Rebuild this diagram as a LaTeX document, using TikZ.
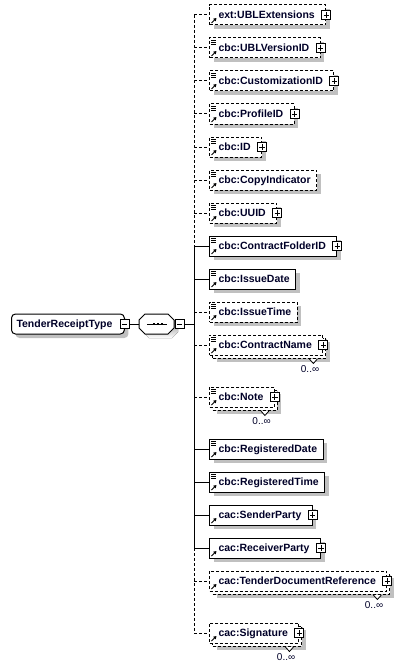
\documentclass[tikz,border=0pt]{standalone}
\usepackage{fontspec}
\setmainfont{Liberation Sans}
\usetikzlibrary{shadows,arrows.meta}
\definecolor{txt}{RGB}{0,0,40}
\definecolor{shade}{RGB}{192,192,192}
\newcommand\sqPlus[1]{%
  \draw[line width=0.9bp,fill=white] ([shift={(-4.5,-4.5)}]#1) rectangle ([shift={(4.5,4.5)}]#1);
  \draw[line width=0.9bp] ([shift={(-2.6,0)}]#1) -- ([shift={(2.6,0)}]#1);
  \draw[line width=0.9bp] ([shift={(0,-2.6)}]#1) -- ([shift={(0,2.6)}]#1);}
\newcommand\sqMinus[1]{%
  \draw[line width=0.9bp,fill=white] ([shift={(-4.5,-4.5)}]#1) rectangle ([shift={(4.5,4.5)}]#1);
  \draw[line width=0.9bp] ([shift={(-2.6,0)}]#1) -- ([shift={(2.6,0)}]#1);}
\newcommand\icLines[1]{%
  \foreach \dy in {2.5,4.5,6.5}{\draw[line width=0.8bp] ([shift={(2,\dy)}]#1.north west) -- ([shift={(6.5,\dy)}]#1.north west);}}
\newcommand\icArrow[1]{%
  \draw[line width=1bp,-{Triangle[length=3bp,width=3.5bp]}] ([shift={(2.5,-2.5)}]#1.south west) -- ([shift={(7.5,-7.5)}]#1.south west);}
\newcommand\multiMark[1]{%
  \draw[line width=0.8bp,fill=white] ([shift={(-14,3.5)}]#1.south east) -- ([shift={(-10,8)}]#1.south east) -- ([shift={(-6,3.5)}]#1.south east);
  \node[card,anchor=east] (#1card) at ([shift={(-4,14)}]#1.south east) {0..∞};}
\newcommand\elP[1]{\kern9bp #1\kern11bp}
\newcommand\elN[1]{\kern9bp #1\kern6bp}
\begin{document}
\begin{tikzpicture}[x=1bp,y=-1bp,
  every node/.style={font=\fontsize{10.5bp}{12bp}\selectfont\bfseries,text=txt},
  card/.style={font=\fontsize{10bp}{12bp}\selectfont,text=txt,inner sep=0pt},
  elbox/.style={anchor=west,rectangle,draw=black,line width=1bp,fill=white,
    minimum height=20bp,inner xsep=0pt,inner ysep=0pt,text height=7.5bp,text depth=0bp,
    general shadow={fill=shade,shadow xshift=4bp,shadow yshift=-4bp}},
  opt/.style={dash pattern=on 3bp off 2bp},
  multi/.style={general shadow={fill=shade,draw=none,shadow xshift=7bp,shadow yshift=-7bp},
    general shadow={fill=white,draw=black,line width=1bp,dash pattern=on 3bp off 2bp,shadow xshift=3bp,shadow yshift=-3bp}},
  conn/.style={line width=1bp,draw=black},
]
\useasboundingbox (0,0) rectangle (408,668);

% root type
\node[elbox,rounded corners=4bp] (root) at (11,324) {\kern5bp TenderReceiptType\kern12bp};

% sequence compositor
\fill[shade] (149,318) -- (172,318) -- (178,324) -- (178,332) -- (172,338) -- (149,338) -- (143,332) -- (143,324) -- cycle;
\draw[line width=1bp,fill=white] (145,314) -- (168,314) -- (174,320) -- (174,328) -- (168,334) -- (145,334) -- (139,328) -- (139,320) -- cycle;
\node[minimum width=35bp,minimum height=20bp,inner sep=0pt] (seq) at (156.5,324) {};
\coordinate (seqm) at ([xshift=5.5bp]seq.east);
\draw[line width=1bp] (147,324) -- (167,324);
\foreach \cx in {154,158,162}{\fill (\cx-1.4,322.6) rectangle (\cx+1.4,325.4);}

\coordinate (spine) at (194,0);

% elements
\node[elbox,opt] (e1) at (209,15) {\elP{ext:UBLExtensions}};
\node[elbox,opt] (e2) at (209,48) {\elP{cbc:UBLVersionID}};
\node[elbox,opt] (e3) at (209,81) {\elP{cbc:CustomizationID}};
\node[elbox,opt] (e4) at (209,114) {\elP{cbc:ProfileID}};
\node[elbox,opt] (e5) at (209,147) {\elP{cbc:ID}};
\node[elbox,opt] (e6) at (209,180) {\elN{cbc:CopyIndicator}};
\node[elbox,opt] (e7) at (209,213) {\elP{cbc:UUID}};
\node[elbox] (e8) at (209,246) {\elP{cbc:ContractFolderID}};
\node[elbox] (e9) at (209,279) {\elN{cbc:IssueDate}};
\node[elbox,opt] (e10) at (209,312) {\elN{cbc:IssueTime}};
\node[elbox,opt,multi] (e11) at (209,345) {\elP{cbc:ContractName}};
\node[elbox,opt,multi] (e12) at (209,397) {\elP{cbc:Note}};
\node[elbox] (e13) at (209,449) {\elN{cbc:RegisteredDate}};
\node[elbox] (e14) at (209,482) {\elN{cbc:RegisteredTime}};
\node[elbox] (e15) at (209,515) {\elP{cac:SenderParty}};
\node[elbox] (e16) at (209,548) {\elP{cac:ReceiverParty}};
\node[elbox,opt,multi] (e17) at (209,581) {\elP{cac:TenderDocumentReference}};
\node[elbox,opt,multi] (e18) at (209,633) {\elP{cac:Signature}};

% icons
\foreach \n in {e2,e3,e4,e5,e6,e7,e8,e9,e10,e11,e12,e13,e14}{\icLines{\n}}
\foreach \n in {e1,e2,e3,e4,e5,e6,e7,e8,e9,e10,e11,e12,e13,e14,e15,e16,e17,e18}{\icArrow{\n}}
\foreach \n in {e1,e2,e3,e4,e5,e7,e8,e11,e12,e15,e16,e17,e18}{\sqPlus{\n.east}}
\foreach \n in {e11,e12,e17,e18}{\multiMark{\n}}

% connectors
\draw[conn] ([xshift=4.5bp]root.east) -- (seq.west);
\draw[conn] ([xshift=10bp]seq.east) -- (spine |- seq.east);
\sqMinus{root.east}
\sqMinus{seqm}
\draw[conn,opt] (spine |- e1.west) -- (spine |- e8.west);
\draw[conn] (spine |- e8.west) -- (spine |- e16.west);
\draw[conn,opt] (spine |- e16.west) -- (spine |- e18.west);
\foreach \n in {e1,e2,e3,e4,e5,e6,e7,e10,e11,e12,e17,e18}{\draw[conn,opt] (spine |- \n.west) -- (\n.west);}
\foreach \n in {e8,e9,e13,e14,e15,e16}{\draw[conn] (spine |- \n.west) -- (\n.west);}
\end{tikzpicture}
\end{document}
